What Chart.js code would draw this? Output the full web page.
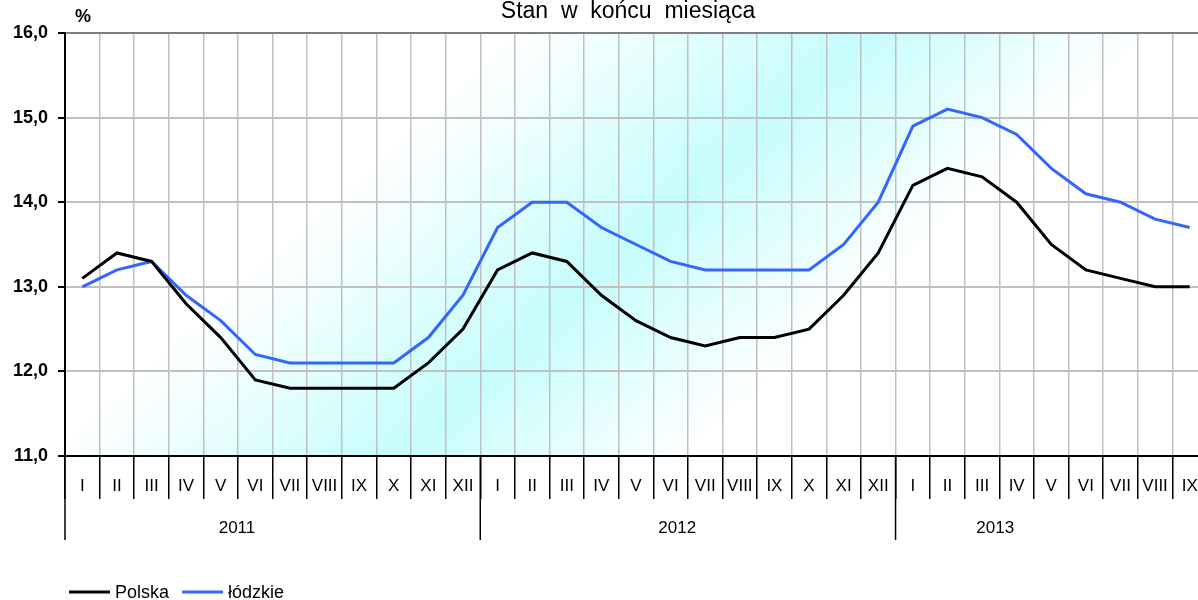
<!DOCTYPE html>
<html>
<head>
<meta charset="utf-8">
<script src="https://cdn.jsdelivr.net/npm/chart.js@4.4.1/dist/chart.umd.min.js"></script>
<style>
  html, body { margin: 0; padding: 0; background: #fff; overflow: hidden; }
  #wrap { width: 1198px; height: 600px; overflow: hidden; }
</style>
</head>
<body>
<div id="wrap"><canvas id="chart" width="1212" height="600"></canvas></div>
<script>
// data
let months = ["I","II","III","IV","V","VI","VII","VIII","IX","X","XI","XII",
              "I","II","III","IV","V","VI","VII","VIII","IX","X","XI","XII",
              "I","II","III","IV","V","VI","VII","VIII","IX"];
let years = ["2011", "2012", "2013"];
let yearStart = [0, 12, 24];
let polska = [13.1,13.4,13.3,12.8,12.4,11.9,11.8,11.8,11.8,11.8,12.1,12.5,
              13.2,13.4,13.3,12.9,12.6,12.4,12.3,12.4,12.4,12.5,12.9,13.4,
              14.2,14.4,14.3,14.0,13.5,13.2,13.1,13.0,13.0];
let lodzkie = [13.0,13.2,13.3,12.9,12.6,12.2,12.1,12.1,12.1,12.1,12.4,12.9,
               13.7,14.0,14.0,13.7,13.5,13.3,13.2,13.2,13.2,13.2,13.5,14.0,
               14.9,15.1,15.0,14.8,14.4,14.1,14.0,13.8,13.7];
let seriesNames = ["Polska", "łódzkie"];
let title = "Stan  w  końcu  miesiąca";
let unit = "%";

const FONT = "'Liberation Sans', Arial, sans-serif";
// where each year caption sits, in category units
const yearLabelAt = [4.47, 17.19, 26.38];

// background gradient + extra axis drawing
const decor = {
    id: 'decor',
    beforeDraw(chart) {
        const c = chart.ctx, a = chart.chartArea;
        c.save();
        let g = c.createLinearGradient(a.left, a.top, a.left + 718, a.top + 798);
        g.addColorStop(0, '#ffffff');
        g.addColorStop(0.28, '#ffffff');
        g.addColorStop(0.5, '#c6fcfc');
        g.addColorStop(0.68, '#ffffff');
        g.addColorStop(1, '#ffffff');
        c.fillStyle = g;
        c.fillRect(a.left, a.top, a.right - a.left, a.bottom - a.top);
        c.restore();
    },
    afterDraw(chart) {
        const c = chart.ctx, a = chart.chartArea;
        const x = chart.scales.x;
        c.save();
        // year separators
        c.strokeStyle = '#000';
        c.lineWidth = 1.5;
        let seps = [a.left];
        for (let i = 1; i < yearStart.length; i++) {
            let s = yearStart[i];
            seps.push((x.getPixelForValue(s - 1) + x.getPixelForValue(s)) / 2);
        }
        seps.forEach(px => {
            c.beginPath();
            c.moveTo(px, a.bottom);
            c.lineTo(px, a.bottom + 84);
            c.stroke();
        });
        // year captions
        c.fillStyle = '#000';
        c.font = '17px ' + FONT;
        c.textAlign = 'center';
        c.textBaseline = 'middle';
        years.forEach((y, i) => {
            c.fillText(y, x.getPixelForValue(yearLabelAt[i]), a.bottom + 72);
        });
        // title
        c.font = '23px ' + FONT;
        c.fillText(title, 628, 12);
        // unit
        c.font = 'bold 18px ' + FONT;
        c.textAlign = 'left';
        c.fillText(unit, 75, 17);
        // legend
        c.font = '18px ' + FONT;
        let lx = 69, ly = 592;
        chart.data.datasets.forEach(ds => {
            c.strokeStyle = ds.borderColor;
            c.lineWidth = 3;
            c.beginPath();
            c.moveTo(lx, ly);
            c.lineTo(lx + 41, ly);
            c.stroke();
            c.fillStyle = '#000';
            c.fillText(ds.label, lx + 46, ly + 1);
            lx += 46 + c.measureText(ds.label).width + 13;
        });
        c.restore();
    }
};

let ctx = document.getElementById('chart').getContext('2d');
let chart = new Chart(ctx, {
    type: 'line',
    data: {
        labels: months,
        datasets: [{
            label: seriesNames[0],
            data: polska,
            borderColor: '#000000',
            borderWidth: 3,
            pointRadius: 0,
            tension: 0
        }, {
            label: seriesNames[1],
            data: lodzkie,
            borderColor: '#3366ff',
            borderWidth: 3,
            pointRadius: 0,
            tension: 0
        }]
    },
    options: {
        responsive: false,
        animation: false,
        devicePixelRatio: 1,
        layout: { padding: { top: 33, right: 5, left: 0, bottom: 0 } },
        plugins: {
            legend: { display: false },
            title: { display: false },
            tooltip: { enabled: false }
        },
        scales: {
            x: {
                type: 'category',
                offset: true,
                grid: {
                    offset: true,
                    color: '#c0c0c0',
                    lineWidth: 1.5,
                    tickColor: '#000',
                    tickLength: 43,
                    tickWidth: 1.5
                },
                border: { color: '#000', width: 2 },
                ticks: {
                    autoSkip: false,
                    maxRotation: 0,
                    minRotation: 0,
                    padding: -23,
                    color: '#000',
                    font: { family: FONT, size: 17 }
                },
                afterFit(scale) { scale.height = 144; }
            },
            y: {
                min: 11,
                max: 16,
                ticks: {
                    stepSize: 1,
                    padding: 10,
                    color: '#000',
                    font: { family: FONT, size: 18, weight: 'bold' },
                    callback: v => v.toFixed(1).replace('.', ',')
                },
                grid: {
                    color: c => (c.tick && c.tick.value === 16) ? '#808080' : '#c0c0c0',
                    lineWidth: 2,
                    tickColor: '#000',
                    tickLength: 7
                },
                border: { color: '#000', width: 2 },
                afterFit(scale) { scale.width = 65; }
            }
        }
    },
    plugins: [decor]
});
</script>
</body>
</html>
